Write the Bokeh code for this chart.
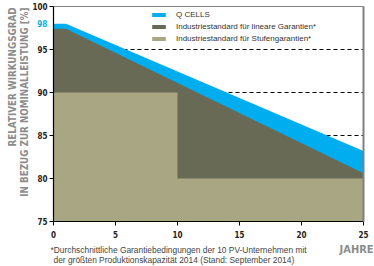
import math
from bokeh.plotting import figure
from bokeh.models import Label, FixedTicker, Legend, LegendItem, LinearAxis, Grid
from bokeh.embed import file_html
from bokeh.resources import INLINE

# data
qcells_x = [0, 1, 25]
qcells_y = [98.0, 98.0, 83.2]
linear_x = [0, 1, 25]
linear_y = [97.4, 97.4, 80.6]
step_x = [0, 10, 10, 25]
step_y = [90, 90, 80, 80]
y_ticks = [75, 80, 85, 90, 95, 100]
highlight_tick = "98"
x_ticks = [0, 5, 10, 15, 20, 25]
grid_lines = [85, 90, 95]
series_names = ["Q CELLS",
                "Industriestandard für lineare Garantien*",
                "Industriestandard für Stufengarantien*"]
colors = ["#00AEEF", "#696A55", "#A9A683"]
ylabel1 = "RELATIVER WIRKUNGSGRAD"
ylabel2 = "IN BEZUG ZUR NOMINALLEISTUNG [%]"
xlabel = "JAHRE"
foot1 = "*Durchschnittliche Garantiebedingungen der 10 PV-Unternehmen mit"
foot2 = "der größten Produktionskapazität 2014 (Stand: September 2014)"

X0, X1, Y0, Y1 = 0, 25, 75, 100
COND = "DejaVu Sans Condensed"
SANS = "Liberation Sans"
GRAY = "#8C8C8C"

# frame covers the whole canvas; plot region 0..25 x 75..100 sits inside it
p = figure(width=374, height=266, x_range=(-4.274, 25.887), y_range=(69.767, 100.698),
           output_backend="svg", toolbar_location=None,
           x_axis_location=None, y_axis_location=None,
           min_border_left=0, min_border_right=0, min_border_top=0, min_border_bottom=0)
p.background_fill_color = "white"
p.border_fill_color = "white"
p.outline_line_color = None
p.xgrid.visible = False
p.ygrid.visible = False

grid = Grid(dimension=1, ticker=FixedTicker(ticks=grid_lines), grid_line_color="black",
            grid_line_dash="4 3", grid_line_width=1)
if "cross_bounds" in grid.properties():
    grid.cross_bounds = (X0, X1)
p.add_layout(grid, "center")

r1 = p.varea(x=qcells_x, y1=[Y0] * len(qcells_x), y2=qcells_y, fill_color=colors[0])
r2 = p.varea(x=linear_x, y1=[Y0] * len(linear_x), y2=linear_y, fill_color=colors[1])
r3 = p.varea(x=step_x, y1=[Y0] * len(step_x), y2=step_y, fill_color=colors[2])


def make_axis(ticks, loc, bounds, color="black", width=1.2):
    return LinearAxis(ticker=FixedTicker(ticks=ticks), fixed_location=loc, bounds=bounds,
                      axis_line_color=color, axis_line_width=width,
                      major_tick_line_color="black", major_tick_out=4, major_tick_in=0,
                      minor_tick_line_color=None,
                      major_label_text_font=COND, major_label_text_font_style="bold",
                      major_label_text_font_size="8px", major_label_text_color="#222222")


xa = make_axis(x_ticks, Y0, (X0, X1))
xa.major_label_standoff = 6
p.add_layout(xa, "below")

ya = make_axis(y_ticks, X0, (Y0, Y1))
ya.major_label_standoff = 2
p.add_layout(ya, "left")

top = make_axis([], Y1, (X0, X1), color="#808080", width=1.2)
p.add_layout(top, "above")
right = make_axis([], X1, (Y0, Y1), color="#808080", width=2)
p.add_layout(right, "right")

legend = Legend(items=[LegendItem(label=series_names[0], renderers=[r1]),
                       LegendItem(label=series_names[1], renderers=[r2]),
                       LegendItem(label=series_names[2], renderers=[r3])],
                location=(150, 223))
legend.background_fill_alpha = 0
legend.border_line_color = None
legend.padding = 0
legend.margin = 0
legend.spacing = 3
legend.glyph_width = 17
legend.glyph_height = 5
legend.label_height = 9
legend.label_standoff = 9
legend.label_text_font = SANS
legend.label_text_font_size = "8px"
legend.label_text_color = "#333333"
p.add_layout(legend)

# highlighted 98 tick label
p.add_layout(Label(x=-0.5, y=98, text=highlight_tick, text_align="right",
                   text_baseline="middle", text_font=COND, text_font_style="bold",
                   text_font_size="8px", text_color=colors[0]))

# y-axis title lines
for txt, xpos in ((ylabel1, -3.31), (ylabel2, -2.34)):
    p.add_layout(Label(x=xpos, y=99.9, text=txt, angle=math.pi / 2, text_align="right",
                       text_baseline="middle", text_font=COND, text_font_style="bold",
                       text_font_size="9.8px", text_color=GRAY))

# x label
p.add_layout(Label(x=25.81, y=71.7, text=xlabel, text_align="right", text_baseline="middle",
                   text_font=COND, text_font_style="bold", text_font_size="11px",
                   text_color=GRAY))

# footnote
p.add_layout(Label(x=-0.24, y=71.63, text=foot1, text_align="left", text_baseline="middle",
                   text_font=SANS, text_font_size="8.4px", text_color="#444444"))
p.add_layout(Label(x=0.0, y=70.58, text=foot2, text_align="left", text_baseline="middle",
                   text_font=SANS, text_font_size="8.4px", text_color="#444444"))

open("out.html", "w").write(file_html(p, INLINE))
